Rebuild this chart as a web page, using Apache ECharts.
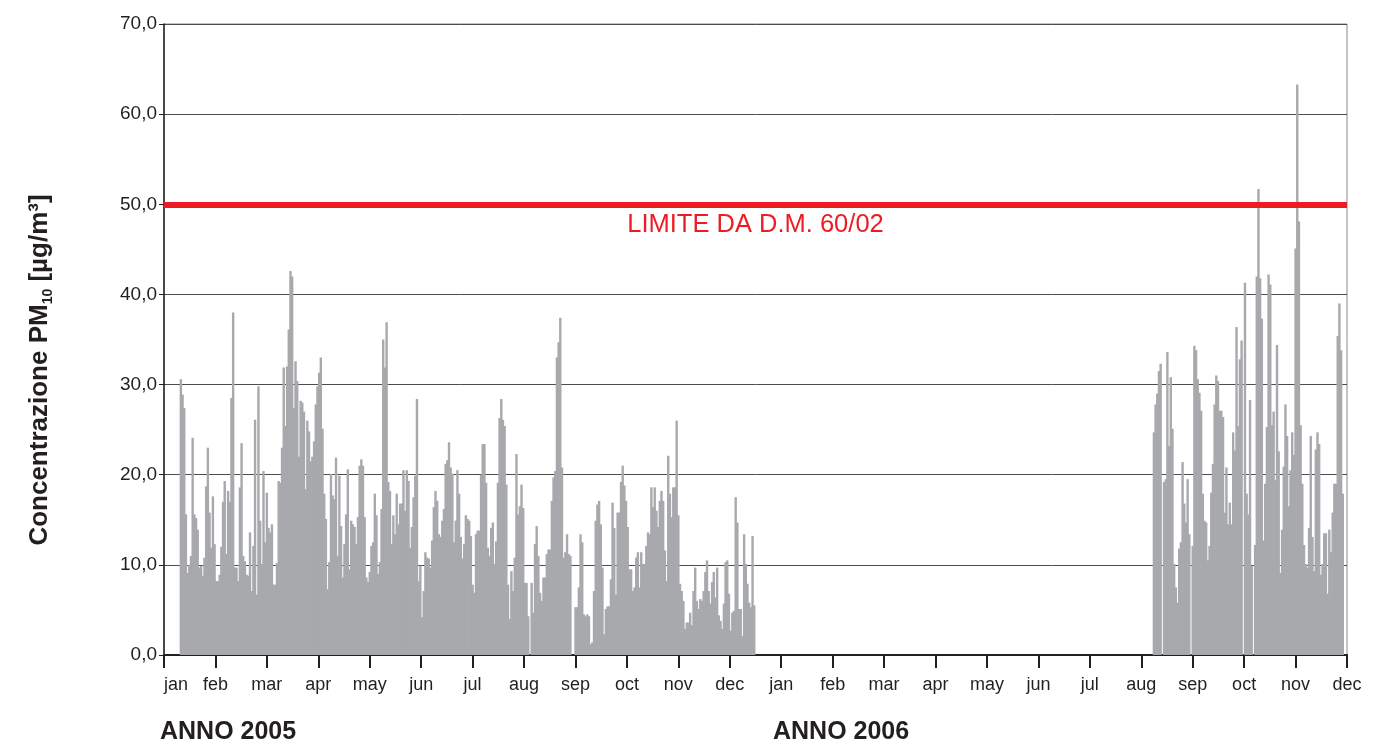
<!DOCTYPE html>
<html>
<head>
<meta charset="utf-8">
<script src="https://cdn.jsdelivr.net/npm/echarts@6/dist/echarts.min.js"></script>
<style>
html,body{margin:0;padding:0;background:#fff;}
#chart{width:1392px;height:749px;}
</style>
</head>
<body>
<div id="chart"></div>
<script>
// ---- DATA ----
const monthLabels = ['jan','feb','mar','apr','may','jun','jul','aug','sep','oct','nov','dec',
                     'jan','feb','mar','apr','may','jun','jul','aug','sep','oct','nov','dec'];
const yearLabels = ['ANNO 2005', 'ANNO 2006'];
const limitValue = 50;
const limitLabel = 'LIMITE DA D.M. 60/02';
const yTicks = [0, 10, 20, 30, 40, 50, 60, 70];

// day position (on the evenly spaced month axis, 30.5 days per month) of first daily value
const startDay2005 = 10;
const startDay2006 = 587;

const values2005 = [
  30.6, 28.9, 27.4, 15.6, 9.1, 10, 11, 24.1, 15.6, 15.2,
  13.9, 9.7, 9.9, 8.8, 10.8, 18.7, 23, 15.8, 11.9, 17.6,
  12.3, 8.2, 8.2, 8.9, 12, 17, 19.3, 11.2, 18.2, 17,
  28.5, 38, 9.7, 9.7, 8.2, 18.6, 23.5, 11, 10.4, 8.9,
  8.8, 13.6, 7.1, 12.1, 26.1, 6.7, 29.8, 14.9, 10.1, 20.4,
  12.5, 18, 14.1, 13.6, 14.5, 7.8, 7.8, 10.2, 19.3, 19.1,
  23, 31.9, 25.4, 32, 36.1, 42.6, 42, 27.4, 32.6, 30.4,
  22, 28.2, 28, 27, 18.4, 26, 24.8, 21.5, 22, 23.7,
  27.8, 29.8, 31.3, 33,
  25.1, 17.9, 15.1, 7.3, 10.3, 20.1, 17.7, 17.3, 21.9, 11,
  19.9, 14.3, 8.6, 12.3, 15.6, 20.6, 9.5, 14.9, 14.5, 14.2,
  12.3, 15.3, 21, 21.7, 21, 15.3, 8.6, 8.1, 9.2, 12.1,
  12.5, 17.9, 15.5, 9, 10.3, 16.2, 35, 31.9, 36.9, 19.2,
  18.2, 12.3, 15.5, 13.4, 17.9, 14.5, 16.8, 16.8, 20.5, 16,
  20.5, 19.3, 11.9, 14.2, 17.5, 19.9, 28.4, 8.2, 9.9, 4.2,
  7.1, 11.4, 10.8, 10.7, 9.7, 12.7, 16.4, 18.2, 17.1, 13.4,
  13.1, 14.9, 16.2, 21.2, 21.6, 23.6, 20.8, 20.1, 12.5, 14.9,
  20.5, 17.9, 13.1, 10.7, 12.3, 15.5, 15.1, 14.9,
  13.2, 7.8, 6.9, 13.4, 13.8, 13.8, 20, 23.4, 23.4, 19.1,
  11.9, 11, 14.1, 14.7, 10.1, 12.6, 19.1, 26.3, 28.4, 26.1,
  25.4, 18.9, 7.8, 4, 9.3, 7.1, 10.8, 22.3, 15.6, 16.5,
  18.9, 16.3, 8, 8, 4.3, 0, 8, 4.7, 12.3, 14.3,
  11, 6.9, 6, 8.6, 8.6, 11.2, 11.7, 11.7, 17.1, 19.7,
  20.4, 33, 34.7, 37.4, 20.8, 10.8, 11.4, 13.4, 11.2, 11,
  0, 0, 5.3, 5.3, 7.5, 13.4, 12.5, 4.5, 4.3, 4.5,
  4.3, 1.2, 1.4, 7.1, 14.9, 16.7, 17.1, 14.5, 9.7, 2.3,
  5.1, 5.4, 5.4, 8.4, 16.9, 14.1, 6.7, 15.8,
  15.8, 19.2, 21, 18.8, 17.1, 14.2, 9.5, 9.5, 7.1, 7.5,
  10.8, 11.4, 7.5, 11.4, 10.1, 10.1, 12.1, 13.6, 13.4, 18.6,
  16.4, 18.6, 16, 14.2, 17.1, 18.2, 17.1, 11.6, 8.2, 22.1,
  17.9, 15.3, 18.6, 18.6, 26, 15.5, 7.9, 7.1, 6, 2.9,
  3.6, 3.6, 4.7, 3.3, 7.1, 9.7, 6, 5.1, 6.2, 6,
  7.1, 9.2, 10.5, 7.1, 5.7, 8.1, 9.2, 6.4, 9.7, 4.4,
  3.8, 2.9, 5.7, 10.3, 10.5, 6.8, 2.7, 4.7, 4.9, 17.5,
  14.7, 5.1, 5.1, 2.1, 13.4, 10.1, 7.9, 5.8, 5.3, 13.2,
  5.5
];

const values2006 = [
  24.7, 27.8, 29, 31.5, 32.3, 0, 19.2, 19.5, 33.6, 23.2,
  30.8, 25.1, 10.1, 7.5, 5.8, 11.8, 12.5, 21.4, 16.8, 14.7,
  19.5, 13.4, 0, 12.1, 34.3, 33.8, 30.6, 29.1, 27.1, 17.9,
  14.9, 14.7, 10.5, 12.1, 18, 21.2, 27.8, 31, 30.4, 27.1,
  27.1, 26.4, 15.8, 20.8, 14.5, 16.9, 14.5, 24.7, 22.7, 36.4,
  25.4, 32.8, 34.9, 0, 41.3, 17.9, 15.6,
  28.3, 9.9, 0, 12.2, 42, 51.7, 41.8, 37.3, 12.7, 19,
  25.3, 42.2, 41.1, 25.5, 27, 19.4, 34.4, 22.6, 9.1, 13.9,
  20.9, 27.8, 24.3, 16.5, 20.5, 24.7, 22.2, 45.1, 63.3, 48.1,
  25.5, 19, 12.2, 10.1, 9.7, 14.1, 24.3, 13.1, 9.3, 22.8,
  24.7, 23.4, 8.9, 10.1, 13.5, 13.5, 6.8, 13.9, 11.4, 15.8,
  19, 19, 35.4, 39, 33.8, 17.9
];

// ---- BUILD ----
const daysPerMonth = 30.5;
const seriesData = [];
values2005.forEach((v, i) => seriesData.push([startDay2005 + i, v]));
values2006.forEach((v, i) => seriesData.push([startDay2006 + i, v]));

const textColor = '#231f20';
const fontFam = 'Liberation Sans, Arial, sans-serif';
const chart = echarts.init(document.getElementById('chart'), null, {renderer: 'canvas'});

chart.setOption({
  animation: false,
  backgroundColor: '#ffffff',
  grid: {
    left: 164, right: 45, top: 24, bottom: 94,
    outerBoundsMode: 'none',
    show: true, borderColor: '#8a8a8a', borderWidth: 1, backgroundColor: 'transparent'
  },
  xAxis: {
    type: 'value',
    min: 0,
    max: daysPerMonth * (monthLabels.length - 1),
    interval: daysPerMonth,
    axisLine: {show: true, lineStyle: {color: textColor, width: 2}},
    axisTick: {show: true, length: 13, lineStyle: {color: textColor, width: 2}},
    splitLine: {show: false},
    axisLabel: {
      show: true,
      showMinLabel: true,
      showMaxLabel: true,
      alignMinLabel: 'left',
      margin: 21,
      fontSize: 18,
      fontFamily: fontFam,
      color: textColor,
      formatter: v => monthLabels[Math.round(v / daysPerMonth)] || ''
    }
  },
  yAxis: {
    type: 'value',
    min: yTicks[0],
    max: yTicks[yTicks.length - 1],
    interval: yTicks[1] - yTicks[0],
    axisLine: {show: true, lineStyle: {color: textColor, width: 1.5}},
    axisTick: {show: true, length: 5, lineStyle: {color: textColor, width: 1}},
    splitLine: {show: true, lineStyle: {color: '#4d4d4d', width: 1}},
    axisLabel: {
      margin: 7,
      fontSize: 19,
      fontFamily: fontFam,
      color: textColor,
      formatter: v => v.toFixed(1).replace('.', ',')
    }
  },
  series: [{
    type: 'bar',
    data: seriesData,
    barWidth: 2.4,
    large: false,
    itemStyle: {color: '#a7a9ac', borderWidth: 0},
    silent: true,
    markLine: {
      silent: true,
      symbol: 'none',
      data: [{yAxis: limitValue}],
      lineStyle: {color: '#ed1c24', width: 6, type: 'solid'},
      label: {
        show: true,
        position: 'insideMiddleBottom',
        formatter: limitLabel,
        color: '#ed1c24',
        fontSize: 25.5,
        distance: 8,
        fontFamily: fontFam
      },
      emphasis: {disabled: true}
    }
  }],
  graphic: [
    {
      type: 'text',
      x: 40, y: 370,
      rotation: Math.PI / 2,
      style: {
        text: '{a|Concentrazione PM}{s|10}{a| [µg/m³]}',
        align: 'center',
        verticalAlign: 'middle',
        fill: textColor,
        rich: {
          a: {fontSize: 26, fontWeight: 'bold', fontFamily: fontFam, fill: textColor, lineHeight: 30, verticalAlign: 'middle'},
          s: {fontSize: 14, fontWeight: 'bold', fontFamily: fontFam, fill: textColor, lineHeight: 15, verticalAlign: 'bottom'}
        }
      }
    },
    {
      type: 'text',
      left: 160, top: 720,
      style: {text: yearLabels[0], fontSize: 25, fontWeight: 'bold', fontFamily: fontFam, fill: textColor}
    },
    {
      type: 'text',
      left: 773, top: 720,
      style: {text: yearLabels[1], fontSize: 25, fontWeight: 'bold', fontFamily: fontFam, fill: textColor}
    }
  ]
});
</script>
</body>
</html>
